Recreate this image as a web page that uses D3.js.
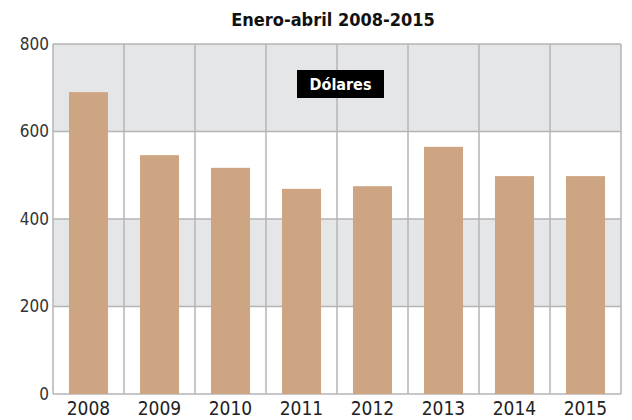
<!DOCTYPE html>
<html>
<head>
<meta charset="utf-8">
<script src="https://cdn.jsdelivr.net/npm/d3@7"></script>
<style>
  body { margin: 0; background: #fff; }
  text { font-family: "Liberation Sans Narrow", "DejaVu Sans Condensed", "Roboto", sans-serif; }
</style>
</head>
<body>
<div id="chart"></div>
<script>
let years = ["2008", "2009", "2010", "2011", "2012", "2013", "2014", "2015"];
let dolares = [690, 546, 517, 469, 475, 565, 498, 498];
let yTicks = [0, 200, 400, 600, 800];
let stripes = [[600, 800], [200, 400]];

let width = 632, height = 420;
let margin = {top: 44, right: 11, bottom: 26, left: 53};
let plot_w = width - margin.left - margin.right;
let plot_h = height - margin.top - margin.bottom;

let svg = d3.select("#chart")
    .append("svg")
    .attr("width", width)
    .attr("height", height);

let g = svg.append("g")
    .attr("transform", `translate(${margin.left}, ${margin.top})`);

let x = d3.scaleBand()
    .domain(years)
    .range([0, plot_w])
    .paddingInner(0.45)
    .paddingOuter(0.225);

let xCol = d3.scaleBand()
    .domain(years)
    .range([0, plot_w]);

let y = d3.scaleLinear()
    .domain([0, 800])
    .range([plot_h, 0]);

// grey stripes
g.selectAll("rect.stripe").data(stripes)
    .enter()
    .append("rect")
    .attr("class", "stripe")
    .attr("x", 0)
    .attr("y", d => y(d[1]))
    .attr("width", plot_w)
    .attr("height", d => y(d[0]) - y(d[1]))
    .attr("fill", "#e5e6e8");

// horizontal grid
g.selectAll("line.hgrid").data(yTicks)
    .enter()
    .append("line")
    .attr("class", "hgrid")
    .attr("x1", 0)
    .attr("x2", plot_w)
    .attr("y1", d => y(d))
    .attr("y2", d => y(d))
    .attr("stroke", "#b4b5b7")
    .attr("stroke-width", 1.5);

// vertical grid
g.selectAll("line.vgrid").data(years)
    .enter()
    .append("line")
    .attr("class", "vgrid")
    .attr("x1", d => xCol(d))
    .attr("x2", d => xCol(d))
    .attr("y1", 0)
    .attr("y2", plot_h)
    .attr("stroke", "#b4b5b7")
    .attr("stroke-width", 1.5);

g.append("line")
    .attr("x1", plot_w).attr("x2", plot_w)
    .attr("y1", 0).attr("y2", plot_h)
    .attr("stroke", "#b4b5b7")
    .attr("stroke-width", 1.5);

// bars
g.selectAll("rect.bar").data(dolares)
    .enter()
    .append("rect")
    .attr("class", "bar")
    .attr("x", (d, i) => x(years[i]))
    .attr("y", d => y(d))
    .attr("width", x.bandwidth())
    .attr("height", d => plot_h - y(d))
    .attr("fill", "#cea582");

// y axis labels
let yAxis = g.append("g")
    .call(d3.axisLeft(y).tickValues(yTicks).tickSize(0).tickPadding(4));
yAxis.select(".domain").remove();
yAxis.selectAll("text")
    .style("font-size", "17px")
    .attr("fill", "#333");

// x axis labels
let xAxis = g.append("g")
    .attr("transform", `translate(0, ${plot_h})`)
    .call(d3.axisBottom(x).tickSize(0).tickPadding(8));
xAxis.select(".domain").remove();
xAxis.selectAll("text")
    .style("font-size", "19px")
    .attr("fill", "#222");

// title
svg.append("text")
    .attr("x", 333)
    .attr("y", 26)
    .style("text-anchor", "middle")
    .style("font-size", "18px")
    .style("font-weight", "bold")
    .attr("fill", "#111")
    .text("Enero-abril 2008-2015");

// legend tag
svg.append("rect")
    .attr("x", 297)
    .attr("y", 70)
    .attr("width", 87)
    .attr("height", 28)
    .attr("fill", "#000");

svg.append("text")
    .attr("x", 340.5)
    .attr("y", 90)
    .style("text-anchor", "middle")
    .style("font-size", "16px")
    .style("font-weight", "bold")
    .attr("fill", "#fff")
    .text("Dólares");
</script>
</body>
</html>
